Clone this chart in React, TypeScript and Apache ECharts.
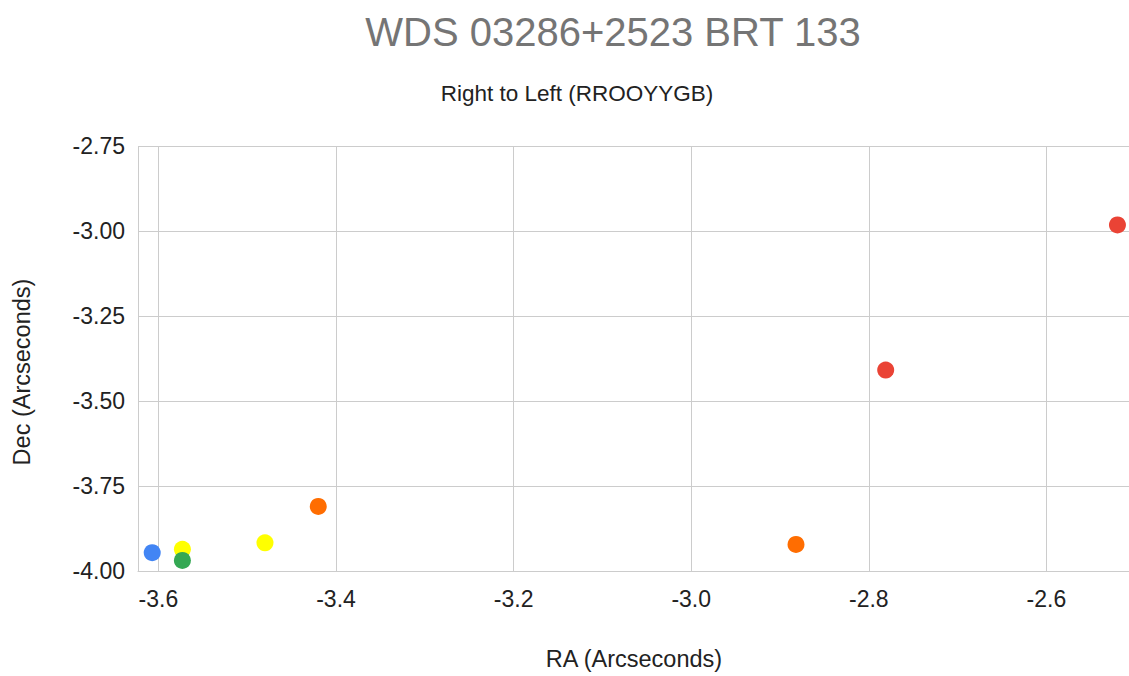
import React, { useEffect, useRef } from "react";
import * as echarts from "echarts";

const TITLE = "WDS 03286+2523 BRT 133";
const SUBTITLE = "Right to Left (RROOYYGB)";
const X_NAME = "RA (Arcseconds)";
const Y_NAME = "Dec (Arcseconds)";

// Points in order R R O O Y Y G B
const labels = ["R", "R", "O", "O", "Y", "Y", "G", "B"];
const ra = [-2.52, -2.781, -2.882, -3.42, -3.48, -3.573, -3.573, -3.607];
const dec = [-2.982, -3.409, -3.922, -3.81, -3.917, -3.936, -3.969, -3.946];
const colorMap: Record<string, string> = {
  R: "#ea4335",
  O: "#ff6d01",
  Y: "#ffff00",
  G: "#34a853",
  B: "#4285f4",
};

export default function App() {
  const ref = useRef<HTMLDivElement>(null);
  useEffect(() => {
    if (!ref.current) return;
    const chart = echarts.init(ref.current, null, { renderer: "svg" });
    const font = "'Liberation Sans', Arial, sans-serif";
    const series = labels.map((l, i) => ({
      type: "scatter",
      symbolSize: 17,
      itemStyle: { color: colorMap[l], opacity: 1 },
      data: [[ra[i], dec[i]]],
      z: 2 + i,
    }));
    chart.setOption({
      animation: false,
      backgroundColor: "#ffffff",
      textStyle: { fontFamily: font },
      grid: { left: 138, top: 146, right: 0, bottom: 105, containLabel: false },
      xAxis: {
        type: "value",
        min: -3.623,
        max: -2.507,
        minInterval: 0.2,
        maxInterval: 0.2,
        axisLine: { show: true, lineStyle: { color: "#cccccc", width: 1 } },
        axisTick: { show: false },
        axisLabel: {
          showMinLabel: false,
          showMaxLabel: false,
          color: "#222222",
          fontSize: 23,
          fontFamily: font,
          margin: 16,
          formatter: (v: number) => v.toFixed(1),
        },
        splitLine: { show: true, lineStyle: { color: "#cccccc", width: 1 } },
      },
      yAxis: {
        type: "value",
        min: -4,
        max: -2.75,
        interval: 0.25,
        axisLine: { show: false },
        axisTick: { show: false },
        axisLabel: {
          color: "#222222",
          fontSize: 23,
          fontFamily: font,
          margin: 13,
          formatter: (v: number) => v.toFixed(2),
        },
        splitLine: { show: true, lineStyle: { color: "#cccccc", width: 1 } },
      },
      graphic: [
        {
          type: "text",
          x: 613,
          y: 32,
          style: {
            text: TITLE,
            fill: "#757575",
            font: `40px ${font}`,
            textAlign: "center",
            textVerticalAlign: "middle",
          },
        },
        {
          type: "text",
          x: 577,
          y: 93,
          style: {
            text: SUBTITLE,
            fill: "#222222",
            font: `22.5px ${font}`,
            textAlign: "center",
            textVerticalAlign: "middle",
          },
        },
        {
          type: "text",
          x: 634,
          y: 659,
          style: {
            text: X_NAME,
            fill: "#222222",
            font: `23.5px ${font}`,
            textAlign: "center",
            textVerticalAlign: "middle",
          },
        },
        {
          type: "text",
          x: 22,
          y: 372,
          rotation: Math.PI / 2,
          style: {
            text: Y_NAME,
            fill: "#222222",
            font: `23.5px ${font}`,
            textAlign: "center",
            textVerticalAlign: "middle",
          },
        },
      ],
      series,
    });
    return () => chart.dispose();
  }, []);
  return (
    <div
      ref={ref}
      style={{ position: "fixed", left: 0, top: 0, width: 1129, height: 676 }}
    />
  );
}
